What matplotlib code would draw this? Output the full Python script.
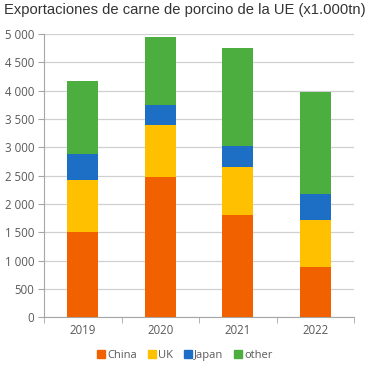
import numpy as np
import matplotlib
matplotlib.use("Agg")
import matplotlib.pyplot as plt
from matplotlib.patches import Patch

years = ["2019", "2020", "2021", "2022"]
china = [1500, 2480, 1800, 885]
uk = [930, 915, 855, 825]
japan = [445, 345, 370, 465]
other = [1300, 1205, 1725, 1795]

series = [("China", china, "#F26100"), ("UK", uk, "#FFC000"),
          ("Japan", japan, "#1C6FC4"), ("other", other, "#4CAE3F")]

plt.rcParams["font.family"] = ["Open Sans", "DejaVu Sans"]

fig = plt.figure(figsize=(3.7, 3.78), dpi=100)
ax = fig.add_axes([0.119, 0.161, 0.838, 0.749])

x = np.arange(len(years))
bottom = np.zeros(len(years))
for name, vals, col in series:
    ax.bar(x, vals, 0.4, bottom=bottom, color=col, label=name, zorder=3)
    bottom += np.array(vals)

ax.set_ylim(0, 5000)
ax.set_xlim(-0.5, 3.5)
yt = np.arange(0, 5001, 500)
ax.set_yticks(yt)
ax.set_yticklabels([f"{v:,}".replace(",", " ") for v in yt])
ax.yaxis.grid(True, color="#D0D0D0", linewidth=0.9, zorder=0)
ax.set_xticks(x)
ax.set_xticklabels(years)
ax.set_xticks(np.arange(-0.5, 4, 1), minor=True)
ax.tick_params(axis="x", which="major", length=0, pad=5)
ax.tick_params(axis="x", which="minor", length=4, color="#A6A6A6")
ax.tick_params(axis="y", length=4, color="#A6A6A6", pad=3)
ax.tick_params(labelsize=8.3, labelcolor="#595959")
for s in ["top", "right"]:
    ax.spines[s].set_visible(False)
for s in ["left", "bottom"]:
    ax.spines[s].set_color("#A6A6A6")

fig.text(0.012, 0.974, "Exportaciones de carne de porcino de la UE (x1.000tn)",
         family="Liberation Sans", fontsize=10.6, color="#333333", va="center")

handles = [Patch(color=c, label=n) for n, _, c in series]
fig.legend(handles=handles, loc="center", bbox_to_anchor=(0.5, 0.06), ncol=4,
           frameon=False, fontsize=8, labelcolor="#595959",
           handlelength=0.7, handleheight=0.7, handletextpad=0.2,
           columnspacing=1.0)

fig.savefig("out.png", dpi=100)
